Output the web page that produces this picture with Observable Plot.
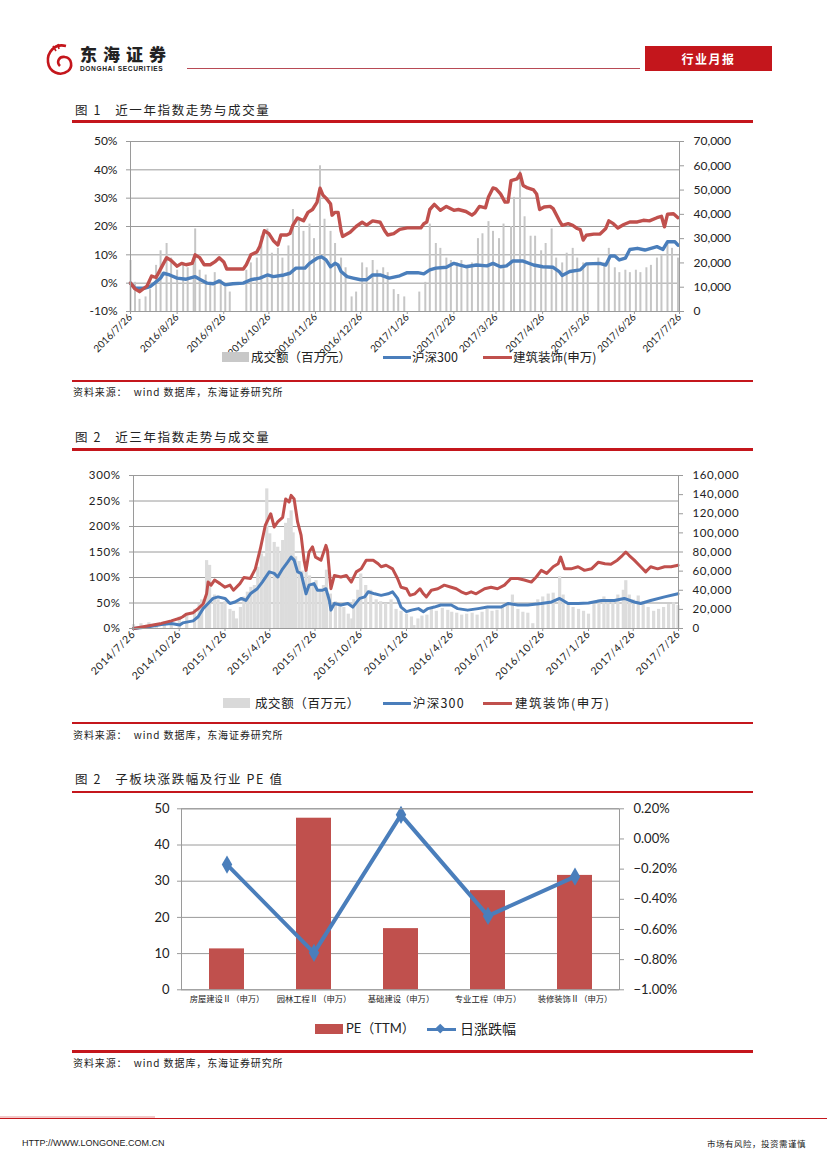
<!DOCTYPE html>
<html><head><meta charset="utf-8">
<script src="https://cdn.jsdelivr.net/npm/d3@7"></script>
<script src="https://cdn.jsdelivr.net/npm/@observablehq/plot@0.6"></script>
<style>
body{margin:0;background:#fff}
#page{position:relative;width:827px;height:1170px;overflow:hidden;background:#fff;font-family:"Noto Sans CJK SC",sans-serif;color:#222}
.abs{position:absolute;white-space:nowrap}
.title{font-size:12.5px;letter-spacing:1.6px;line-height:16px}
.rline{position:absolute;left:72px;width:681px;height:2.5px;background:#c4161c}
.src{font-size:10px;letter-spacing:0.9px;line-height:14px}
.lt{font-size:12.5px;line-height:16px}
.box{position:absolute;background:#c8c8c8}
.ln{position:absolute;height:3px}
.chart svg{overflow:visible}
</style></head>
<body><div id="page">
<!-- header -->
<svg class="abs" style="left:44px;top:42px" width="34" height="36" viewBox="0 0 34 36">
  <path d="M22,4 C10,1 3,11 4,20 C5,30 16,35 24,29 C29,25 28,16 21,15 C15,14 12,20 16,24" fill="none" stroke="#c4161c" stroke-width="2.6"/>
  <path d="M12,9 L9,4 M15,7 L14,2" stroke="#c4161c" stroke-width="1.6"/>
</svg>
<div class="abs" style="left:80px;top:44px;font-size:17px;font-weight:900;letter-spacing:6px;line-height:20px">东海证券</div>
<div class="abs" style="left:80px;top:65px;font-family:'Liberation Sans';font-size:6.6px;font-weight:bold;letter-spacing:0.6px;line-height:8px">DONGHAI SECURITIES</div>
<div class="abs" style="left:187px;top:67.5px;width:453px;height:1.2px;background:#b84a55"></div>
<div class="abs" style="left:645px;top:46px;width:127px;height:25px;background:#c4161c;color:#fff;font-size:12px;font-weight:bold;text-align:center;line-height:25px;letter-spacing:1.5px">行业月报</div>

<!-- chart 1 -->
<div class="abs title" style="left:75px;top:102px">图 1 &nbsp; 近一年指数走势与成交量</div>
<div class="rline" style="top:120px"></div>
<div class="abs chart" id="c1" style="left:0;top:130px"></div>
<div class="box" style="left:222px;top:352px;width:27px;height:10px"></div>
<div class="abs lt" style="left:251px;top:349px">成交额（百万元）</div>
<div class="ln" style="left:383px;top:355.5px;width:28px;background:#4a7ebb"></div>
<div class="abs lt" style="left:412px;top:349px">沪深300</div>
<div class="ln" style="left:483px;top:355.5px;width:29px;background:#c0504d"></div>
<div class="abs lt" style="left:513px;top:349px">建筑装饰(申万)</div>
<div class="rline" style="top:379.5px"></div>
<div class="abs src" style="left:73px;top:385px">资料来源： &nbsp;wind 数据库，东海证券研究所</div>

<!-- chart 2 -->
<div class="abs title" style="left:75px;top:429px">图 2 &nbsp; 近三年指数走势与成交量</div>
<div class="rline" style="top:448px"></div>
<div class="abs chart" id="c2" style="left:0;top:460px"></div>
<div class="box" style="left:223px;top:698px;width:27px;height:10px;background:#d9d9d9"></div>
<div class="abs lt" style="left:255px;top:695px;letter-spacing:0.6px">成交额（百万元）</div>
<div class="ln" style="left:383px;top:701.5px;width:28px;background:#4a7ebb"></div>
<div class="abs lt" style="left:413px;top:695px;letter-spacing:1.2px">沪深300</div>
<div class="ln" style="left:483px;top:701.5px;width:29px;background:#c0504d"></div>
<div class="abs lt" style="left:515px;top:695px;letter-spacing:1.5px">建筑装饰(申万)</div>
<div class="rline" style="top:721.5px"></div>
<div class="abs src" style="left:73px;top:728px">资料来源： &nbsp;wind 数据库，东海证券研究所</div>

<!-- chart 3 -->
<div class="abs title" style="left:75px;top:771px">图 2 &nbsp; 子板块涨跌幅及行业 PE 值</div>
<div class="rline" style="top:790.5px"></div>
<div class="abs chart" id="c3" style="left:0;top:795px"></div>
<div class="abs" style="left:315px;top:1024px;width:28px;height:10px;background:#c0504d"></div>
<div class="abs" style="left:346px;top:1020px;font-family:'Lato','Noto Sans CJK SC';font-size:13px;line-height:17px">PE（TTM）</div>
<div class="ln" style="left:427px;top:1027.5px;width:29px;background:#4a7ebb"></div>
<div class="abs" style="left:437px;top:1025px;width:6.5px;height:6.5px;background:#4a7ebb;transform:rotate(45deg)"></div>
<div class="abs" style="left:460px;top:1020px;font-size:14px;line-height:17px">日涨跌幅</div>
<div class="rline" style="top:1050px"></div>
<div class="abs src" style="left:73px;top:1056px">资料来源： &nbsp;wind 数据库，东海证券研究所</div>

<!-- footer -->
<div class="abs" style="left:0;top:1118px;width:827px;height:1.3px;background:#c4161c"></div>
<div class="abs" style="left:0;top:1116px;width:155px;height:2px;background:#f2c9c9"></div>
<div class="abs" style="left:22px;top:1137px;font-family:'Liberation Sans';font-size:9px;line-height:12px">HTTP://WWW.LONGONE.COM.CN</div>
<div class="abs" style="right:21px;top:1137px;font-size:8.5px;line-height:12px;letter-spacing:0.5px">市场有风险，投资需谨慎</div>
</div>

<script>
// ---------- Chart 1 data: 近一年 ----------
const xTicks1 = ["2016-07-26","2016-08-26","2016-09-26","2016-10-26","2016-11-26","2016-12-26","2017-01-26","2017-02-26","2017-03-26","2017-04-26","2017-05-26","2017-06-26","2017-07-26"];
const pctTicks1 = [-10,0,10,20,30,40,50];
const volTicks1 = [0,10000,20000,30000,40000,50000,60000,70000];
const red1 = [["2016-07-26",0],["2016-07-29",-2],["2016-08-01",-3],["2016-08-06",-1],["2016-08-09",2.5],["2016-08-12",2],["2016-08-16",6],["2016-08-19",9],["2016-08-22",8],["2016-08-26",6],["2016-08-29",7],["2016-09-01",6.5],["2016-09-05",7],["2016-09-07",10],["2016-09-10",9],["2016-09-13",6.5],["2016-09-17",6.5],["2016-09-20",7.5],["2016-09-23",9],["2016-09-26",7.5],["2016-09-28",5],["2016-10-02",5],["2016-10-09",5],["2016-10-11",6.5],["2016-10-14",10],["2016-10-18",11],["2016-10-20",13],["2016-10-23",18.5],["2016-10-26",17.5],["2016-10-29",15],["2016-11-01",13.5],["2016-11-03",17],["2016-11-07",17],["2016-11-09",17.5],["2016-11-11",20.5],["2016-11-14",23],["2016-11-18",22],["2016-11-21",25],["2016-11-24",26],["2016-11-27",28.5],["2016-11-29",33.5],["2016-12-01",31],["2016-12-03",30],["2016-12-06",28],["2016-12-07",24],["2016-12-09",25],["2016-12-11",25],["2016-12-13",18.5],["2016-12-14",16.5],["2016-12-19",18],["2016-12-23",20],["2016-12-27",21.5],["2016-12-30",20.5],["2017-01-03",22],["2017-01-08",21.5],["2017-01-11",18.5],["2017-01-13",17],["2017-01-17",17.5],["2017-01-21",19],["2017-01-26",19.5],["2017-02-04",19.5],["2017-02-06",21],["2017-02-08",21.6],["2017-02-10",26],["2017-02-13",27.8],["2017-02-17",25.7],["2017-02-21",27.1],["2017-02-26",25.7],["2017-03-01",26],["2017-03-06",25.3],["2017-03-10",24],["2017-03-12",24.8],["2017-03-15",27.1],["2017-03-19",26.6],["2017-03-21",30.4],["2017-03-24",33.6],["2017-03-26",33.3],["2017-03-29",31.5],["2017-04-01",28.6],["2017-04-03",28.6],["2017-04-05",36.2],["2017-04-09",36.8],["2017-04-11",38.6],["2017-04-13",34.5],["2017-04-16",33.6],["2017-04-20",32.9],["2017-04-22",31.5],["2017-04-24",26],["2017-04-27",26.9],["2017-05-01",27.1],["2017-05-03",26.3],["2017-05-07",22.2],["2017-05-09",20.4],["2017-05-13",21],["2017-05-16",20.4],["2017-05-19",19.3],["2017-05-21",18.9],["2017-05-23",15.2],["2017-05-25",16.9],["2017-05-30",17.3],["2017-06-03",17.3],["2017-06-07",19.3],["2017-06-09",22],["2017-06-12",21],["2017-06-15",19.5],["2017-06-19",20.7],["2017-06-23",21.6],["2017-06-28",21.6],["2017-07-02",22.2],["2017-07-06",22],["2017-07-11",23.1],["2017-07-14",23.6],["2017-07-16",19.9],["2017-07-18",24.3],["2017-07-22",24.5],["2017-07-25",23.1]];
const blue1 = [["2016-07-26",0],["2016-07-29",-1.8],["2016-08-04",-1.8],["2016-08-08",-1.2],["2016-08-11",0],["2016-08-15",1.8],["2016-08-17",3.5],["2016-08-21",2.9],["2016-08-26",1.8],["2016-09-01",1.4],["2016-09-07",2.3],["2016-09-10",1.4],["2016-09-15",0],["2016-09-19",-0.2],["2016-09-23",0.8],["2016-09-27",-0.6],["2016-10-02",-0.2],["2016-10-09",0],["2016-10-14",1.2],["2016-10-20",1.8],["2016-10-25",2.9],["2016-10-29",2.3],["2016-11-05",2.9],["2016-11-09",3.5],["2016-11-13",5.3],["2016-11-19",5.3],["2016-11-22",7],["2016-11-27",8.8],["2016-11-30",9.3],["2016-12-03",8.2],["2016-12-06",5.8],["2016-12-09",7],["2016-12-11",6.4],["2016-12-13",4.1],["2016-12-17",2.3],["2016-12-21",1.8],["2016-12-26",1.2],["2016-12-30",1.2],["2017-01-03",2.9],["2017-01-08",2.9],["2017-01-14",1.8],["2017-01-21",2.6],["2017-01-26",3.7],["2017-02-02",3.7],["2017-02-06",3.3],["2017-02-10",4.7],["2017-02-14",5.3],["2017-02-21",5.6],["2017-02-26",7],["2017-03-02",6.4],["2017-03-06",5.8],["2017-03-13",6.4],["2017-03-20",6.1],["2017-03-24",7],["2017-03-29",5.8],["2017-04-02",6.1],["2017-04-06",7.8],["2017-04-13",7.8],["2017-04-20",6.4],["2017-04-26",5.8],["2017-05-03",5.6],["2017-05-07",4.1],["2017-05-09",2.7],["2017-05-14",4.1],["2017-05-21",4.7],["2017-05-25",6.8],["2017-06-03",7],["2017-06-07",6.4],["2017-06-10",9.6],["2017-06-13",9.6],["2017-06-16",8.2],["2017-06-20",8.8],["2017-06-23",11.9],["2017-06-28",12.3],["2017-07-03",11.7],["2017-07-11",12.9],["2017-07-15",11.9],["2017-07-18",14.6],["2017-07-23",14.6],["2017-07-25",13.4]];
const vol1 = [["2016-07-26",21000],["2016-07-29",12000],["2016-08-01",5000],["2016-08-05",6000],["2016-08-08",9000],["2016-08-12",19000],["2016-08-15",25000],["2016-08-19",28000],["2016-08-22",22000],["2016-08-26",17000],["2016-08-30",20000],["2016-09-02",18000],["2016-09-06",21000],["2016-09-07",34000],["2016-09-10",17000],["2016-09-14",15000],["2016-09-17",12000],["2016-09-20",16000],["2016-09-24",13000],["2016-09-27",10000],["2016-09-30",8000],["2016-10-11",17000],["2016-10-14",20000],["2016-10-18",22000],["2016-10-21",31000],["2016-10-25",34000],["2016-10-28",24000],["2016-11-01",26000],["2016-11-04",22000],["2016-11-08",27000],["2016-11-11",42000],["2016-11-15",38000],["2016-11-18",33000],["2016-11-22",36000],["2016-11-25",30000],["2016-11-29",60000],["2016-12-02",38000],["2016-12-06",33000],["2016-12-09",28000],["2016-12-13",22000],["2016-12-16",18000],["2016-12-20",6000],["2016-12-23",8000],["2016-12-27",20000],["2016-12-30",18000],["2017-01-03",21000],["2017-01-06",17000],["2017-01-10",18000],["2017-01-13",16000],["2017-01-17",9000],["2017-01-20",7000],["2017-01-24",6000],["2017-02-03",8000],["2017-02-07",12000],["2017-02-10",36000],["2017-02-14",28000],["2017-02-17",26000],["2017-02-21",22000],["2017-02-24",21000],["2017-02-28",20000],["2017-03-03",21000],["2017-03-07",19000],["2017-03-10",20000],["2017-03-14",30000],["2017-03-17",32000],["2017-03-21",37000],["2017-03-24",33000],["2017-03-28",30000],["2017-03-31",36000],["2017-04-05",35000],["2017-04-07",47000],["2017-04-11",58000],["2017-04-14",39000],["2017-04-18",31000],["2017-04-21",31000],["2017-04-25",25000],["2017-04-28",28000],["2017-05-02",34000],["2017-05-05",22000],["2017-05-09",20000],["2017-05-12",24000],["2017-05-16",26000],["2017-05-19",22000],["2017-05-23",20000],["2017-05-26",19000],["2017-06-02",22000],["2017-06-06",20000],["2017-06-09",26000],["2017-06-13",18000],["2017-06-16",16000],["2017-06-20",17000],["2017-06-23",16000],["2017-06-27",17000],["2017-06-30",16000],["2017-07-04",18000],["2017-07-07",19000],["2017-07-11",22000],["2017-07-14",23000],["2017-07-18",28000],["2017-07-21",26000],["2017-07-25",22000]];

// ---------- Chart 2 data: 近三年 ----------
const xTicks2 = ["2014-07-26","2014-10-26","2015-01-26","2015-04-26","2015-07-26","2015-10-26","2016-01-26","2016-04-26","2016-07-26","2016-10-26","2017-01-26","2017-04-26","2017-07-26"];
const pctTicks2 = [0,50,100,150,200,250,300];
const volTicks2 = [0,20000,40000,60000,80000,100000,120000,140000,160000];
const red2 = [["2014-07-26",0],["2014-08-23",5],["2014-09-20",10],["2014-10-10",15],["2014-10-27",20],["2014-11-02",23],["2014-11-09",28],["2014-11-23",31],["2014-12-03",39],["2014-12-13",48],["2014-12-20",68],["2014-12-23",91],["2014-12-29",85],["2015-01-05",95],["2015-01-16",88],["2015-01-26",81],["2015-02-05",85],["2015-02-12",75],["2015-02-25",88],["2015-03-05",100],["2015-03-18",98],["2015-03-28",117],["2015-04-07",156],["2015-04-17",202],["2015-04-28",225],["2015-05-05",199],["2015-05-12",209],["2015-05-22",218],["2015-05-28",254],["2015-06-04",248],["2015-06-08",261],["2015-06-14",254],["2015-06-21",209],["2015-06-28",183],["2015-07-04",134],["2015-07-08",114],["2015-07-14",150],["2015-07-21",160],["2015-07-27",140],["2015-08-07",134],["2015-08-17",163],["2015-08-20",153],["2015-08-27",78],["2015-09-03",104],["2015-09-16",101],["2015-09-27",104],["2015-10-07",91],["2015-10-17",111],["2015-10-27",117],["2015-11-06",134],["2015-11-20",134],["2015-11-30",127],["2015-12-06",121],["2015-12-16",124],["2015-12-29",117],["2016-01-08",98],["2016-01-15",81],["2016-01-26",78],["2016-02-02",65],["2016-02-12",68],["2016-02-22",78],["2016-02-29",68],["2016-03-06",62],["2016-03-16",75],["2016-03-29",78],["2016-04-11",85],["2016-04-25",81],["2016-05-05",78],["2016-05-15",72],["2016-05-25",68],["2016-06-04",72],["2016-06-14",68],["2016-07-01",78],["2016-07-14",81],["2016-07-27",78],["2016-08-10",85],["2016-08-23",98],["2016-09-06",98],["2016-09-19",95],["2016-10-03",91],["2016-10-13",101],["2016-10-23",114],["2016-11-03",108],["2016-11-16",121],["2016-11-26",127],["2016-12-01",140],["2016-12-09",117],["2016-12-22",117],["2017-01-05",121],["2017-01-18",114],["2017-02-01",117],["2017-02-15",130],["2017-02-28",127],["2017-03-12",126],["2017-03-25",134],["2017-04-04",143],["2017-04-11",150],["2017-04-18",143],["2017-04-28",134],["2017-05-11",121],["2017-05-21",111],["2017-05-31",121],["2017-06-14",117],["2017-06-28",121],["2017-07-11",121],["2017-07-25",124]];
const blue2 = [["2014-07-26",0],["2014-08-23",3],["2014-09-20",8],["2014-10-10",10],["2014-10-27",7],["2014-11-02",11],["2014-11-23",15],["2014-12-03",23],["2014-12-13",39],["2014-12-23",49],["2015-01-02",59],["2015-01-12",62],["2015-01-26",59],["2015-02-05",49],["2015-02-15",52],["2015-02-28",59],["2015-03-09",55],["2015-03-18",68],["2015-04-01",78],["2015-04-11",91],["2015-04-25",111],["2015-05-05",108],["2015-05-12",101],["2015-05-22",117],["2015-06-01",130],["2015-06-08",140],["2015-06-14",134],["2015-06-21",111],["2015-06-28",108],["2015-07-08",68],["2015-07-14",85],["2015-07-24",88],["2015-07-31",75],["2015-08-10",75],["2015-08-17",78],["2015-08-24",55],["2015-08-27",36],["2015-09-03",49],["2015-09-16",46],["2015-09-30",49],["2015-10-10",42],["2015-10-24",59],["2015-11-03",62],["2015-11-10",72],["2015-11-23",68],["2015-12-06",65],["2015-12-20",68],["2015-12-29",72],["2016-01-08",59],["2016-01-15",42],["2016-01-26",33],["2016-02-05",36],["2016-02-19",39],["2016-02-29",33],["2016-03-09",39],["2016-03-22",42],["2016-04-04",46],["2016-04-25",46],["2016-05-08",39],["2016-05-28",36],["2016-06-18",39],["2016-07-07",42],["2016-08-03",42],["2016-08-17",49],["2016-09-06",46],["2016-09-26",46],["2016-10-23",49],["2016-11-13",52],["2016-11-29",59],["2016-12-16",49],["2017-01-05",49],["2017-01-26",50],["2017-02-21",55],["2017-03-19",55],["2017-04-08",59],["2017-04-28",52],["2017-05-11",49],["2017-05-31",55],["2017-06-28",62],["2017-07-25",68]];
const vol2 = [["2014-07-26",4000],["2014-08-10",5000],["2014-08-26",6000],["2014-09-10",4000],["2014-09-26",7000],["2014-10-10",5000],["2014-10-26",12000],["2014-11-10",15000],["2014-11-26",20000],["2014-12-05",25000],["2014-12-10",30000],["2014-12-20",71000],["2014-12-26",66000],["2015-01-05",35000],["2015-01-12",30000],["2015-01-20",25000],["2015-01-26",28000],["2015-02-05",20000],["2015-02-12",18000],["2015-02-18",10000],["2015-02-26",22000],["2015-03-05",33000],["2015-03-12",38000],["2015-03-19",43000],["2015-03-26",45000],["2015-04-02",64000],["2015-04-09",78000],["2015-04-16",75000],["2015-04-20",146000],["2015-04-26",99000],["2015-05-05",90000],["2015-05-12",85000],["2015-05-19",80000],["2015-05-22",92000],["2015-05-28",110000],["2015-06-03",115000],["2015-06-08",123000],["2015-06-12",100000],["2015-06-17",75000],["2015-06-24",70000],["2015-06-30",60000],["2015-07-08",61000],["2015-07-15",55000],["2015-07-22",47000],["2015-07-28",50000],["2015-08-05",40000],["2015-08-12",45000],["2015-08-18",61000],["2015-08-26",36000],["2015-09-05",28000],["2015-09-14",25000],["2015-09-22",22000],["2015-10-01",15000],["2015-10-08",10000],["2015-10-12",30000],["2015-10-20",40000],["2015-10-26",57000],["2015-11-05",45000],["2015-11-15",40000],["2015-11-26",30000],["2015-12-05",28000],["2015-12-15",26000],["2015-12-26",30000],["2016-01-05",20000],["2016-01-15",18000],["2016-01-26",15000],["2016-02-05",12000],["2016-02-10",3000],["2016-02-18",10000],["2016-02-26",13000],["2016-03-07",14000],["2016-03-16",20000],["2016-03-26",18000],["2016-04-07",21000],["2016-04-18",19000],["2016-04-26",17000],["2016-05-06",16000],["2016-05-16",14000],["2016-05-26",15000],["2016-06-06",16000],["2016-06-16",14000],["2016-06-26",17000],["2016-07-06",20000],["2016-07-16",18000],["2016-07-26",19000],["2016-08-06",22000],["2016-08-16",26000],["2016-08-26",35000],["2016-09-06",20000],["2016-09-16",17000],["2016-09-26",16000],["2016-10-06",5000],["2016-10-16",30000],["2016-10-26",33000],["2016-11-06",36000],["2016-11-16",37000],["2016-11-29",54000],["2016-12-06",35000],["2016-12-16",25000],["2016-12-26",22000],["2017-01-06",20000],["2017-01-16",18000],["2017-01-26",15000],["2017-02-06",25000],["2017-02-16",30000],["2017-02-26",33000],["2017-03-06",28000],["2017-03-16",30000],["2017-03-26",35000],["2017-04-06",40000],["2017-04-11",50000],["2017-04-18",35000],["2017-04-26",30000],["2017-05-06",34000],["2017-05-16",28000],["2017-05-26",22000],["2017-06-06",18000],["2017-06-16",20000],["2017-06-26",22000],["2017-07-06",25000],["2017-07-16",27000],["2017-07-25",24000]];

// ---------- Chart 3 data: 子板块 ----------
const sectors = ["房屋建设Ⅱ（申万）","园林工程Ⅱ（申万）","基础建设（申万）","专业工程（申万）","装修装饰Ⅱ（申万）"];
const pe = [11.3, 47.4, 16.9, 27.4, 31.6];
const dailyChg = [-0.17, -0.755, 0.16, -0.51, -0.25];
const peTicks = [0,10,20,30,40,50];
const chgTicks = [-1.0,-0.8,-0.6,-0.4,-0.2,0,0.2];

const RED = "#c0504d", BLUE = "#4a7ebb", GRID = "#9a9a9a";
const parse = d3.utcParse("%Y-%m-%d");
const fmtDate = d3.utcFormat("%Y/%-m/%-d");
const fmtNum = d3.format(",");

function dualChart({el, red, blue, vol, xTicks, pctTicks, volTicks, pMin, pMax, vMax, m, h, barColor, barWidth, lineWidth, font, xFont, spacing}) {
  const toY = v => v / vMax * (pMax - pMin) + pMin;
  const fromY = y => (y - pMin) / (pMax - pMin) * vMax;
  const chart = Plot.plot({
    width: 827, height: h,
    marginLeft: m[0], marginRight: m[1], marginTop: m[2], marginBottom: m[3],
    x: {type: "utc", domain: [parse(xTicks[0]), parse(xTicks[xTicks.length - 1])]},
    y: {domain: [pMin, pMax]},
    style: {fontFamily: "Lato, 'Noto Sans'", fontSize: font + "px", color: "#222", background: "transparent", letterSpacing: spacing + "px"},
    marks: [
      Plot.ruleY(pctTicks, {stroke: GRID, strokeWidth: 1}),
      Plot.ruleX(vol, {x: d => parse(d[0]), y1: pMin, y2: d => toY(d[1]), stroke: barColor, strokeWidth: barWidth}),
      Plot.line(blue, {x: d => parse(d[0]), y: d => d[1], stroke: BLUE, strokeWidth: lineWidth, strokeLinejoin: "round"}),
      Plot.line(red, {x: d => parse(d[0]), y: d => d[1], stroke: RED, strokeWidth: lineWidth, strokeLinejoin: "round"}),
      Plot.frame({stroke: GRID, strokeWidth: 1}),
      Plot.axisY(pctTicks, {anchor: "left", label: null, tickSize: 4, tickPadding: 9, stroke: GRID, tickFormat: d => d + "%"}),
      Plot.axisY(volTicks.map(toY), {anchor: "right", label: null, tickSize: 4, tickPadding: 10, stroke: GRID, tickFormat: y => fmtNum(Math.round(fromY(y)))}),
      Plot.axisX(xTicks.map(parse), {anchor: "bottom", label: null, tickSize: 3, tickPadding: 1, stroke: GRID, tickRotate: -45, tickFormat: fmtDate, fontSize: xFont})
    ]
  });
  document.getElementById(el).appendChild(chart);
}

dualChart({el: "c1", red: red1, blue: blue1, vol: vol1, xTicks: xTicks1, pctTicks: pctTicks1, volTicks: volTicks1,
  pMin: -10, pMax: 50, vMax: 70000, m: [130, 148, 11, 49], h: 230, barColor: "#c6c6c6", barWidth: 2, lineWidth: 3.4, font: 12, xFont: 10, spacing: 0});

dualChart({el: "c2", red: red2, blue: blue2, vol: vol2, xTicks: xTicks2, pctTicks: pctTicks2, volTicks: volTicks2,
  pMin: 0, pMax: 300, vMax: 160000, m: [133, 149, 15, 62], h: 230, barColor: "#dcdcdc", barWidth: 3.2, lineWidth: 3, font: 11.5, xFont: 10.5, spacing: 0.6});

// Chart 3
const rows3 = sectors.map((s, i) => ({sector: s, pe: pe[i], chg: dailyChg[i]}));
const chgToY = p => (p + 1.0) / 1.2 * 50;
const yToChg = y => y / 50 * 1.2 - 1.0;
const fmtPct = d3.format(".2f");
const chart3 = Plot.plot({
  width: 827, height: 215,
  marginLeft: 181, marginRight: 208, marginTop: 13.3, marginBottom: 20.7,
  x: {type: "band", domain: sectors, paddingInner: 0.6, paddingOuter: 0.3, label: null},
  y: {domain: [0, 50], label: null},
  style: {fontFamily: "Lato, 'Noto Sans'", fontSize: "13px", color: "#222", background: "transparent"},
  marks: [
    Plot.ruleY(peTicks, {stroke: GRID, strokeWidth: 1}),
    Plot.barY(rows3, {x: "sector", y: "pe", fill: RED}),
    Plot.line(rows3, {x: "sector", y: d => chgToY(d.chg), stroke: BLUE, strokeWidth: 4, strokeLinejoin: "miter"}),
    Plot.dot(rows3, {x: "sector", y: d => chgToY(d.chg), symbol: "diamond", r: 5.5, fill: BLUE}),
    Plot.frame({stroke: GRID, strokeWidth: 1}),
    Plot.axisY(peTicks, {anchor: "left", label: null, tickSize: 4, tickPadding: 8, stroke: GRID}),
    Plot.axisY(chgTicks.map(chgToY), {anchor: "right", label: null, tickSize: 4, tickPadding: 10, stroke: GRID,
      tickFormat: y => { const v = Math.round(yToChg(y) * 100) / 100; return fmtPct(v === 0 ? 0 : v) + "%"; }}),
    Plot.axisX({anchor: "bottom", label: null, tickSize: 0, tickPadding: 6, fontSize: 8.3, fontFamily: "'Noto Sans CJK SC'"})
  ]
});
document.getElementById("c3").appendChild(chart3);
</script>
</body></html>
